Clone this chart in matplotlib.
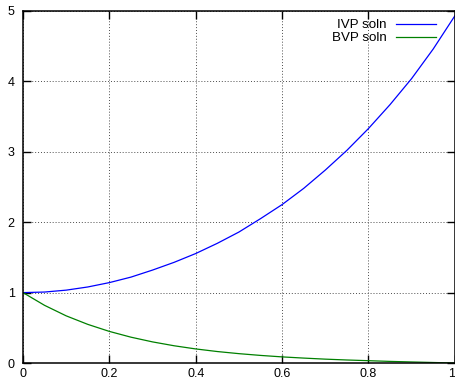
import matplotlib
matplotlib.use("Agg")
import matplotlib.pyplot as plt

plt.rcParams["font.family"] = ["Liberation Sans", "DejaVu Sans"]

# values
x = [0.0, 0.05, 0.1, 0.15, 0.2, 0.25, 0.3, 0.35, 0.4, 0.45, 0.5,
     0.55, 0.6, 0.65, 0.7, 0.75, 0.8, 0.85, 0.9, 0.95, 1.0]
ivp = [1.0, 1.008, 1.035, 1.08, 1.142, 1.22, 1.32, 1.43, 1.555, 1.70, 1.86,
       2.05, 2.25, 2.48, 2.74, 3.02, 3.33, 3.67, 4.04, 4.46, 4.93]
bvp = [1.0, 0.819, 0.67, 0.549, 0.449, 0.367, 0.30, 0.245, 0.20, 0.163, 0.133,
       0.108, 0.087, 0.070, 0.055, 0.043, 0.033, 0.023, 0.015, 0.0074, 0.0]

xticks = [0, 0.2, 0.4, 0.6, 0.8, 1]
xticklabels = ["0", "0.2", "0.4", "0.6", "0.8", "1"]
yticks = [0, 1, 2, 3, 4, 5]

fig = plt.figure(figsize=(4.56, 3.81), dpi=100)
ax = fig.add_axes([0.0504, 0.0472, 0.947, 0.924])

ax.plot(x, ivp, color="#0000ff", linewidth=0.9, label="IVP soln")
ax.plot(x, bvp, color="#008000", linewidth=0.9, label="BVP soln")

ax.set_xlim(0, 1)
ax.set_ylim(0, 5)
ax.set_xticks(xticks, xticklabels)
ax.set_yticks(yticks, [str(v) for v in yticks])
ax.grid(True, color="0.3", linestyle=(0, (1, 2)), linewidth=0.7)
ax.tick_params(direction="in", length=6, width=1.0, top=True, right=True,
               labelsize=9, colors="black")
ax.tick_params(axis="x", pad=3.5)
ax.tick_params(axis="y", pad=6)
# last x label sits on the figure edge, keep it inside
ax.get_xticklabels()[-1].set_horizontalalignment("right")
for sp in ax.spines.values():
    sp.set_linewidth(1.1)

ax.legend(loc="upper right", frameon=False, fontsize=9.6, markerfirst=False,
          handlelength=3.0, handletextpad=0.7, labelspacing=0.05,
          borderaxespad=0.2, bbox_to_anchor=(0.975, 1.0))

fig.savefig("out.png", dpi=100)
